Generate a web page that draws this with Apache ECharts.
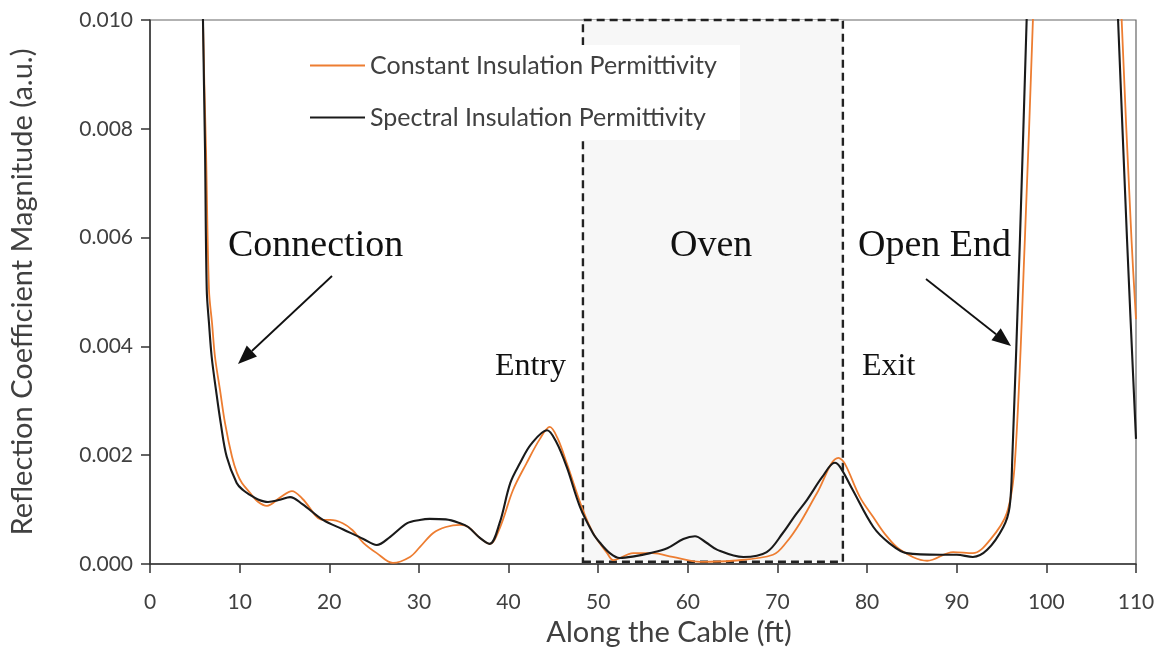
<!DOCTYPE html>
<html>
<head>
<meta charset="utf-8">
<script src="https://cdn.jsdelivr.net/npm/echarts@6/dist/echarts.min.js"></script>
<style>
  html, body { margin: 0; padding: 0; background: #fff; }
  #chart { width: 1164px; height: 652px; }
</style>
</head>
<body>
<div id="chart"></div>
<script>
// Reflection coefficient magnitude along the cable (distance in ft)
const constFt = [5.5, 5.91, 6.25, 6.58, 6.92, 7.25, 7.81, 8.37, 9.15, 9.71, 10.26, 11.16, 12.0, 13.05, 14.5, 15.84, 17.0, 19.3, 20.1, 21.5, 22.6, 23.8, 25.3, 27.1, 29.0, 30.1, 31.6, 33.0, 34.6, 35.5, 36.8, 37.9, 39.0, 40.5, 42.0, 43.5, 44.6, 45.5, 46.5, 48.3, 49.5, 51.0, 51.7, 53.9, 56.1, 58.3, 61.4, 65.0, 69.5, 71.0, 72.5, 74.4, 76.8, 77.5, 79.2, 80.7, 82.0, 83.7, 86.7, 89.6, 91.8, 93.7, 95.6, 96.5, 97.6, 98.5, 99.2, 103, 107.8, 108.4, 109.5, 110.0];
const constVal = [0.0160, 0.0100, 0.00761, 0.00504, 0.00443, 0.00381, 0.00320, 0.00259, 0.00197, 0.00167, 0.00149, 0.00131, 0.00115, 0.00107, 0.00122, 0.00134, 0.00120, 0.00081, 0.00081, 0.00075, 0.00062, 0.00039, 0.00020, 0.00002, 0.00013, 0.00031, 0.00057, 0.00068, 0.00072, 0.00068, 0.00048, 0.00037, 0.00065, 0.00136, 0.00185, 0.00230, 0.00252, 0.00230, 0.00185, 0.00099, 0.00055, 0.00020, 0.00007, 0.00020, 0.00020, 0.00013, 0.00004, 0.00006, 0.00017, 0.00040, 0.00075, 0.00130, 0.00195, 0.00185, 0.00123, 0.00086, 0.00055, 0.00026, 0.00006, 0.00022, 0.00020, 0.00044, 0.00094, 0.00190, 0.00596, 0.0100, 0.0135, 0.0300, 0.0130, 0.0100, 0.00596, 0.0045];

const specFt = [5.5, 5.91, 6.14, 6.33, 6.58, 6.88, 7.36, 7.89, 8.56, 9.67, 10.37, 11.16, 12.0, 13.16, 14.5, 15.62, 17.0, 19.3, 21.5, 23.8, 25.3, 26.8, 28.7, 30.1, 31.2, 33.0, 34.6, 35.5, 36.8, 37.9, 39.0, 40.2, 41.3, 42.5, 44.3, 45.3, 46.5, 47.97, 49.4, 50.2, 51.3, 52.4, 54.0, 55.8, 57.7, 59.5, 60.8, 62.0, 63.3, 66.2, 68.8, 70.6, 72.0, 73.3, 75.0, 76.4, 77.0, 78.4, 80.7, 82.5, 84.4, 88.1, 90.0, 91.8, 93.4, 95.2, 95.9, 96.2, 97.05, 97.8, 98.4, 103, 107.4, 108.0, 109.0, 110.0];
const specVal = [0.0160, 0.0100, 0.00761, 0.00504, 0.00443, 0.00381, 0.00320, 0.00259, 0.00197, 0.00149, 0.00136, 0.00127, 0.00119, 0.00114, 0.00118, 0.00123, 0.00110, 0.00081, 0.00064, 0.00046, 0.00035, 0.00050, 0.00075, 0.00081, 0.00083, 0.00082, 0.00075, 0.00068, 0.00048, 0.00037, 0.00075, 0.00149, 0.00186, 0.00220, 0.00246, 0.00225, 0.00178, 0.00105, 0.00057, 0.00039, 0.00020, 0.00011, 0.00014, 0.00020, 0.00029, 0.00046, 0.00051, 0.00040, 0.00026, 0.00013, 0.00022, 0.00057, 0.00090, 0.00118, 0.00160, 0.00186, 0.00178, 0.00136, 0.00068, 0.00038, 0.00020, 0.00017, 0.00017, 0.00013, 0.00026, 0.00068, 0.00105, 0.00195, 0.00596, 0.0100, 0.0132, 0.0300, 0.0124, 0.0100, 0.00596, 0.0023];

const seriesNames = ['Constant Insulation Permittivity', 'Spectral Insulation Permittivity'];
const ovenRange = [48.3, 77.3];
const xTicks = { min: 0, max: 110, step: 10 };
const yTicks = { min: 0, max: 0.010, step: 0.002 };

const pairs = (xs, ys) => xs.map((x, i) => [x, ys[i]]);

const chart = echarts.init(document.getElementById('chart'), null, { renderer: 'canvas' });

const sansFont = 'Lato';
const serifFont = 'Liberation Serif';

// Arrow (shaft + filled head) from a to b
function arrow(x1, y1, x2, y2) {
  const len = Math.hypot(x2 - x1, y2 - y1);
  const ux = (x2 - x1) / len, uy = (y2 - y1) / len;
  const headL = 19, headW = 7.5;
  const bx = x2 - ux * headL, by = y2 - uy * headL;
  return [
    { type: 'line', z: 10, shape: { x1: x1, y1: y1, x2: bx, y2: by },
      style: { stroke: '#111', lineWidth: 1.8 } },
    { type: 'polygon', z: 10,
      shape: { points: [[x2, y2], [bx - uy * headW, by + ux * headW], [bx + uy * headW, by - ux * headW]] },
      style: { fill: '#111' } }
  ];
}

function label(text, x, y, size) {
  return { type: 'text', z: 10, style: { text: text, x: x, y: y, font: size + 'px "' + serifFont + '"', fill: '#111', textVerticalAlign: 'middle' } };
}

const option = {
  animation: false,
  backgroundColor: '#fff',
  grid: {
    left: 150, right: 28, top: 20, bottom: 88, containLabel: false, outerBoundsMode: 'none',
    show: true, borderColor: '#666', borderWidth: 1.2, backgroundColor: 'transparent'
  },
  legend: {
    orient: 'vertical', left: 305, top: 48, itemWidth: 55, itemHeight: 2, itemGap: 27,
    icon: 'rect', data: seriesNames, z: 5,
    textStyle: { fontFamily: sansFont, fontSize: 25, color: '#404040' }
  },
  xAxis: {
    type: 'value', min: xTicks.min, max: xTicks.max, interval: xTicks.step,
    name: 'Along the Cable (ft)', nameLocation: 'middle', nameGap: 54,
    nameTextStyle: { fontFamily: sansFont, fontSize: 29, color: '#404040', padding: [0, 0, 0, 52] },
    axisLine: { lineStyle: { color: '#333', width: 1.5 } },
    axisTick: { length: 9, lineStyle: { color: '#333', width: 1.5 } },
    axisLabel: { margin: 28, fontFamily: sansFont, fontSize: 21, color: '#404040' },
    splitLine: { show: false }
  },
  yAxis: {
    type: 'value', min: yTicks.min, max: yTicks.max, interval: yTicks.step,
    name: 'Reflection Coefficient Magnitude (a.u.)', nameLocation: 'middle', nameGap: 113, nameRotate: 90,
    nameTextStyle: { fontFamily: sansFont, fontSize: 29, color: '#404040' },
    axisLine: { show: true, lineStyle: { color: '#333', width: 1.5 } },
    axisTick: { show: true, length: 9, lineStyle: { color: '#333', width: 1.5 } },
    axisLabel: { margin: 17, fontFamily: sansFont, fontSize: 21, color: '#404040', formatter: v => v.toFixed(3) },
    splitLine: { show: false }
  },
  series: [
    {
      name: seriesNames[0], type: 'line', data: pairs(constFt, constVal),
      smooth: 0.35, symbol: 'none', clip: true, z: 2,
      lineStyle: { color: '#ED7D31', width: 1.8 }, itemStyle: { color: '#ED7D31' },
      markArea: {
        silent: true,
        itemStyle: { color: '#f7f7f7', borderColor: '#222', borderWidth: 2.4, borderType: [8, 5] },
        data: [[{ xAxis: ovenRange[0], yAxis: 0.00004 }, { xAxis: ovenRange[1], yAxis: yTicks.max }]]
      }
    },
    {
      name: seriesNames[1], type: 'line', data: pairs(specFt, specVal),
      smooth: 0.35, symbol: 'none', clip: true, z: 3,
      lineStyle: { color: '#1a1a1a', width: 2.1 }, itemStyle: { color: '#1a1a1a' }
    }
  ],
  graphic: [
    { type: 'rect', z: 4, shape: { x: 290, y: 45, width: 450, height: 95 }, style: { fill: '#fff' } },
    label('Connection', 228, 246, 38),
    label('Oven', 670, 246, 38),
    label('Open End', 858, 246, 38),
    label('Entry', 495, 367, 32),
    label('Exit', 862, 367, 32),
    ...arrow(332, 276, 238, 364),
    ...arrow(926, 279, 1011, 346)
  ]
};

chart.setOption(option);
</script>
</body>
</html>
